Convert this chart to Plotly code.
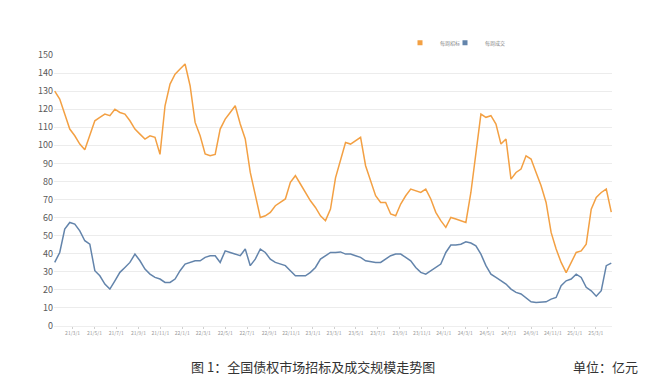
import pandas as pd
import plotly.graph_objects as go

# biweekly sampling dates (x categories)
dates = pd.date_range("2021-01-10", periods=112, freq="14D")

tender = [
    130, 125.6, 117.3, 109, 105.3, 100.7, 97.5, 105.3, 113.6, 115.5,
    117.3, 116.4, 120, 118.2, 117.3, 113.6, 109, 106.2, 103.5, 105.3,
    104.4, 95, 121.9, 133.9, 139.4, 142.2, 145, 133, 112.7, 105.3,
    95.2, 94.2, 95, 109, 114.5, 118.2, 121.9, 111.8, 103.5, 85,
    72.1, 60.1, 61, 62.9, 66.6, 68.4, 70.3, 79.5, 83.2, 78.6,
    73.9, 69.3, 65.6, 61, 58.3, 64.7, 82, 92.4, 101.6, 100.7,
    102.5, 104.4, 88.7, 80.4, 72.1, 68.4, 68.4, 62, 61, 67.5,
    72.1, 75.8, 74.8, 73.9, 75.8, 70.3, 62.9, 58.3, 54.6, 60.1,
    59.2, 58.3, 57.3, 73.9, 96.1, 117.3, 115.5, 116.4, 111.8, 100.7,
    103.5, 81.3, 85, 86.9, 94.2, 92.4, 85, 77.6, 68.4, 51.8,
    42.6, 35.2, 29.5, 35.2, 40.7, 41.6, 45.3, 64.7, 71.2, 73.9,
    75.8, 63,
]

deal = [
    35.2, 40.7, 53.7, 57.3, 56.4, 52.7, 47.2, 45.3, 30.6, 27.8,
    23.2, 20.4, 25, 29.7, 32.4, 35.2, 39.8, 36.1, 31.5, 28.7,
    26.9, 26, 24.1, 24.1, 26, 30.6, 34.3, 35.2, 36.1, 36.1,
    38, 38.9, 38.9, 35.2, 41.6, 40.7, 39.8, 38.9, 42.6, 33.4,
    37, 42.6, 40.7, 37, 35.2, 34.3, 33.4, 30.6, 27.8, 27.8,
    27.8, 29.7, 32.4, 37, 38.9, 40.7, 40.7, 41, 39.8, 39.8,
    38.9, 38, 36.1, 35.6, 35.2, 35.2, 37, 38.9, 39.8, 39.8,
    38, 36.1, 32.4, 29.7, 28.7, 30.6, 32.4, 34.3, 40.7, 44.8,
    44.8, 45.3, 46.6, 45.9, 44.4, 39.8, 33.4, 28.7, 26.9, 25,
    23.2, 20.4, 18.6, 17.7, 15.8, 13.4, 13, 13.4, 13.4, 14.9,
    15.8, 22.3, 25, 26, 28.7, 26.9, 21.4, 19.5, 16.5, 19.5,
    33.4, 34.8,
]

series_names = ["每周招标", "每周成交"]
colors = ["#F3A043", "#6384AB"]

fig = go.Figure()
fig.add_trace(go.Scatter(x=dates, y=tender, mode="lines", name=series_names[0],
                         line=dict(color=colors[0], width=1.5), showlegend=False))
fig.add_trace(go.Scatter(x=dates, y=deal, mode="lines", name=series_names[1],
                         line=dict(color=colors[1], width=1.5), showlegend=False))
# legend entries with square markers, each in its own legend box
for k, (nm, c) in enumerate(zip(series_names, colors)):
    fig.add_trace(go.Scatter(x=[None], y=[None], mode="markers", name=nm,
                             legend="legend" if k == 0 else "legend2",
                             marker=dict(symbol="square", size=5, color=c)))

leg_common = dict(orientation="h", xanchor="left", yanchor="middle",
                  font=dict(size=5, color="#7f7f7f"), bgcolor="rgba(0,0,0,0)",
                  itemwidth=30)

fig.update_layout(
    width=657, height=387,
    margin=dict(l=46, r=53, t=47, b=69),
    paper_bgcolor="white", plot_bgcolor="white",
    font=dict(family="Noto Sans CJK SC, Noto Sans, sans-serif", color="#595959"),
    legend=dict(x=(392 - 46) / 558, y=1.045, **leg_common),
    legend2=dict(x=(437 - 46) / 558, y=1.045, **leg_common),
    xaxis=dict(
        range=["2021-01-08", "2025-04-15"],
        tick0="2021-03-01", dtick="M2", tickformat="%y/%-m/%-d",
        tickfont=dict(size=5, color="#9a9a9a"),
        ticks="outside", ticklen=2, tickcolor="#d0d0d0",
        showgrid=False, showline=True, linecolor="#eeeeee", zeroline=False,
        tickangle=0,
    ),
    yaxis=dict(
        range=[0, 150], dtick=10,
        tickfont=dict(size=9, color="#595959"),
        showgrid=True, gridcolor="#ececec", gridwidth=1,
        zeroline=False, showline=False, ticks="",
    ),
    annotations=[
        dict(text="图 1：全国债权市场招标及成交规模走势图", x=(305 - 46) / 558, y=-0.148,
             xref="paper", yref="paper", showarrow=False, xanchor="center", yanchor="middle",
             font=dict(size=13, color="#333333")),
        dict(text="单位：亿元", x=(597 - 46) / 558, y=-0.148,
             xref="paper", yref="paper", showarrow=False, xanchor="center", yanchor="middle",
             font=dict(size=13, color="#333333")),
    ],
)

fig.write_html("out.html")
